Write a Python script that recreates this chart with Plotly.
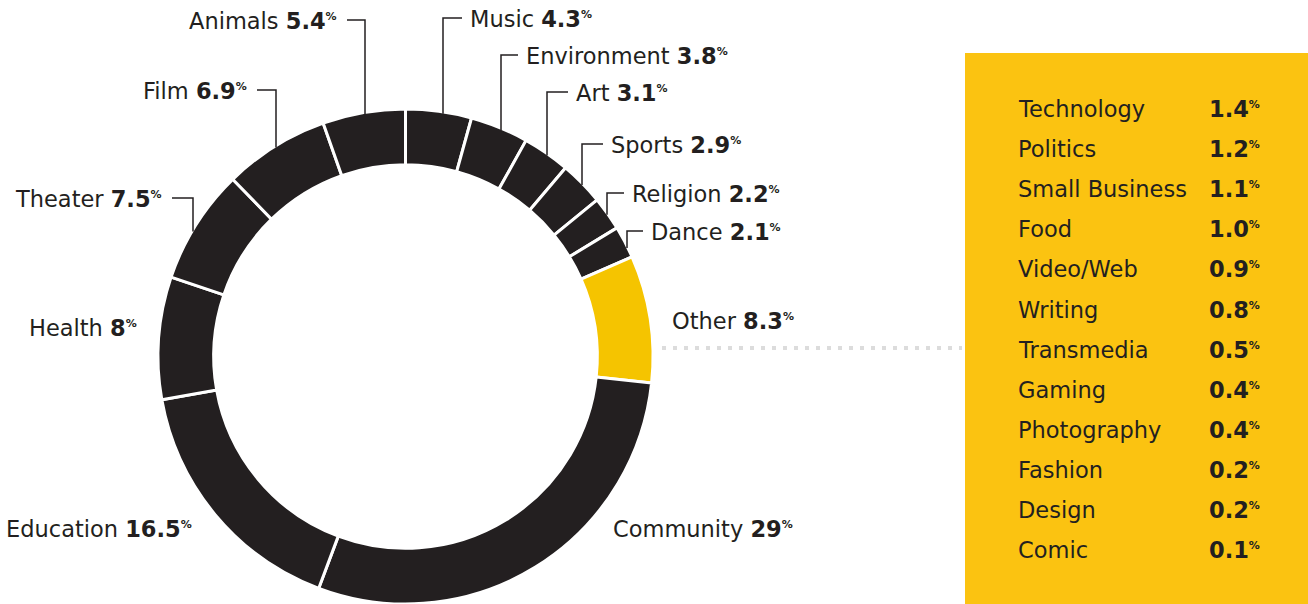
import math
import plotly.graph_objects as go

# ---- data ----
categories = ["Music", "Environment", "Art", "Sports", "Religion", "Dance", "Other",
              "Community", "Education", "Health", "Theater", "Film", "Animals"]
shares = [4.3, 3.8, 3.1, 2.9, 2.2, 2.1, 8.3, 29, 16.5, 8, 7.5, 6.9, 5.4]
share_labels = ["4.3", "3.8", "3.1", "2.9", "2.2", "2.1", "8.3", "29", "16.5", "8", "7.5", "6.9", "5.4"]

other_categories = ["Technology", "Politics", "Small Business", "Food", "Video/Web", "Writing",
                    "Transmedia", "Gaming", "Photography", "Fashion", "Design", "Comic"]
other_labels = ["1.4", "1.2", "1.1", "1.0", "0.9", "0.8", "0.5", "0.4", "0.4", "0.2", "0.2", "0.1"]

# ---- styling ----
W, H = 1308, 604
DARK = "#231F20"
PIE_YELLOW = "#F5C400"
BOX_YELLOW = "#FBC311"
FONT = "DejaVu Sans"
FS = 22.5
PCT = "<sup><span style='font-size:11px'><b>%</b></span></sup>"

def px(x):
    return x / W

def py(y):
    return 1 - y / H

# pie geometry (pixels)
CX, CY, R = 405.5, 356.5, 247.5
colors = [PIE_YELLOW if c == "Other" else DARK for c in categories]

fig = go.Figure()
fig.add_trace(go.Pie(
    labels=categories, values=shares, sort=False, direction="clockwise", rotation=0,
    hole=0.775, textinfo="none", hoverinfo="label+percent",
    marker=dict(colors=colors, line=dict(color="white", width=3)),
    domain=dict(x=[px(CX - R), px(CX + R)], y=[py(CY + R), py(CY - R)]),
    showlegend=False,
))

def ring_y(x):
    return CY - math.sqrt(max(R * R - (x - CX) ** 2, 0))

# label layout: text x, text y, anchor, leader vertical x (or None)
label_layout = {
    "Animals":     (339, 21, "right", 365),
    "Music":       (468, 19, "left", 443),
    "Film":        (249, 91, "right", 276),
    "Environment": (524, 56, "left", 501),
    "Art":         (574, 93, "left", 547),
    "Sports":      (609, 145, "left", 582),
    "Religion":    (630, 194, "left", 607),
    "Dance":       (649, 232, "left", 627),
    "Other":       (670, 321, "left", None),
    "Theater":     (164, 199, "right", 193),
    "Health":      (139, 328, "right", None),
    "Education":   (194, 529, "right", None),
    "Community":   (611, 529, "left", None),
}

annotations = []
shapes = []
for cat, lab in zip(categories, share_labels):
    tx, ty, anchor, vx = label_layout[cat]
    annotations.append(dict(
        x=px(tx), y=py(ty), xref="paper", yref="paper", xanchor=anchor, yanchor="middle",
        text=f"{cat} <b>{lab}</b>{PCT}", showarrow=False,
        font=dict(family=FONT, size=FS, color=DARK),
    ))
    if vx is not None:
        hx = tx - 6 if anchor == "left" else tx + 8
        ly = ty - 1
        yb = ring_y(vx) + 2
        path = f"M {px(hx)},{py(ly)} L {px(vx)},{py(ly)} L {px(vx)},{py(yb)}"
        shapes.append(dict(type="path", xref="paper", yref="paper", path=path,
                           line=dict(color=DARK, width=1.5)))

# dotted connector
shapes.append(dict(type="line", xref="paper", yref="paper",
                   x0=px(662), x1=px(962), y0=py(348), y1=py(348),
                   line=dict(color="#DCDCDC", width=4, dash="4px,7px")))

# yellow box
shapes.append(dict(type="rect", xref="paper", yref="paper", layer="below",
                   x0=px(965), x1=1.0, y0=0, y1=py(53),
                   fillcolor=BOX_YELLOW, line=dict(width=0)))

for i, (cat, lab) in enumerate(zip(other_categories, other_labels)):
    yy = 109 + 40.1 * i
    annotations.append(dict(
        x=px(1016), y=py(yy), xref="paper", yref="paper", xanchor="left", yanchor="middle",
        text=cat, showarrow=False, font=dict(family=FONT, size=FS, color=DARK)))
    annotations.append(dict(
        x=px(1262), y=py(yy), xref="paper", yref="paper", xanchor="right", yanchor="middle",
        text=f"<b>{lab}</b>{PCT}", showarrow=False,
        font=dict(family=FONT, size=FS, color=DARK)))

fig.update_layout(
    width=W, height=H, margin=dict(l=0, r=0, t=0, b=0),
    paper_bgcolor="white", plot_bgcolor="white",
    annotations=annotations, shapes=shapes,
)

fig.write_html("out.html")
